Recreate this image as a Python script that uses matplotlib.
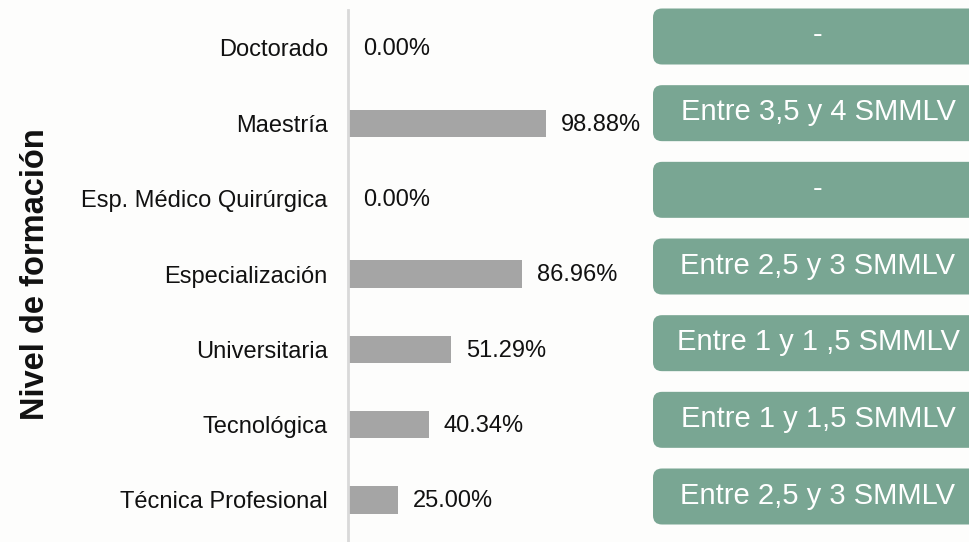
import matplotlib
matplotlib.use("Agg")
import matplotlib.pyplot as plt
from matplotlib.patches import FancyBboxPatch

plt.rcParams['font.family'] = ['Liberation Sans', 'DejaVu Sans']

categories = ["Técnica Profesional", "Tecnológica", "Universitaria",
              "Especialización", "Esp. Médico Quirúrgica", "Maestría", "Doctorado"]
values = [25.00, 40.34, 51.29, 86.96, 0.00, 98.88, 0.00]
salary_labels = ["Entre 2,5 y 3 SMMLV", "Entre 1 y 1,5 SMMLV", "Entre 1 y 1 ,5 SMMLV",
                 "Entre 2,5 y 3 SMMLV", "-", "Entre 3,5 y 4 SMMLV", "-"]
y_title = "Nivel de formación"

W, H = 969, 542
fig = plt.figure(figsize=(W / 100, H / 100), dpi=100)
fig.patch.set_facecolor("#fdfdfc")

# bar axes: x=0 at px 348, 2 px per percent
ax_left, ax_w = 348, 300
ax_top, ax_bot = 10, 542
ax = fig.add_axes([ax_left / W, 1 - ax_bot / H, ax_w / W, (ax_bot - ax_top) / H])
ax.set_facecolor("none")
n = len(categories)
pos = list(range(n))
ax.barh(pos, values, height=0.36, color="#a5a5a5")
ax.set_xlim(0, ax_w / 2.0)
# row centers: index 0 at px 500, index 6 at px 48
step = (500 - 48) / (n - 1)
ax.set_ylim(-(ax_bot - 500) / step, (n - 1) + (48 - ax_top) / step)
for s in ["top", "right", "bottom"]:
    ax.spines[s].set_visible(False)
ax.spines["left"].set_color("#d9d9d9")
ax.spines["left"].set_linewidth(2)
ax.set_xticks([])
ax.set_yticks(pos)
ax.set_yticklabels(categories, fontsize=17, color="#111111")
ax.tick_params(axis="y", length=0, pad=14.5)
for p, v in zip(pos, values):
    ax.annotate(f"{v:.2f}%", xy=(v, p), xytext=(11, -1), textcoords="offset points",
                ha="left", va="center", fontsize=17, color="#111111")

fig.text(36 / W, 1 - 274 / H, y_title, rotation=90, ha="center", va="center",
         fontsize=23.5, fontweight="bold", color="#111111")

# green boxes axes
bx_left = 653
bax = fig.add_axes([bx_left / W, 0, (W - bx_left) / W, 1])
bax.set_axis_off()
bax.set_xlim(0, W - bx_left)
bax.set_ylim(H, 0)
btop, bbot = 36.5, 496.5
bstep = (bbot - btop) / (n - 1)
bh = 56
for i, lab in enumerate(salary_labels):
    cy = bbot - i * bstep
    box = FancyBboxPatch((0, cy - bh / 2), 340, bh,
                         boxstyle="round,pad=0,rounding_size=9",
                         facecolor="#79a693", edgecolor="none", clip_on=False)
    bax.add_patch(box)
    bax.text(165, cy - 1, lab, ha="center", va="center", fontsize=21, color="white")

fig.savefig("out.png", dpi=100, facecolor=fig.get_facecolor())
